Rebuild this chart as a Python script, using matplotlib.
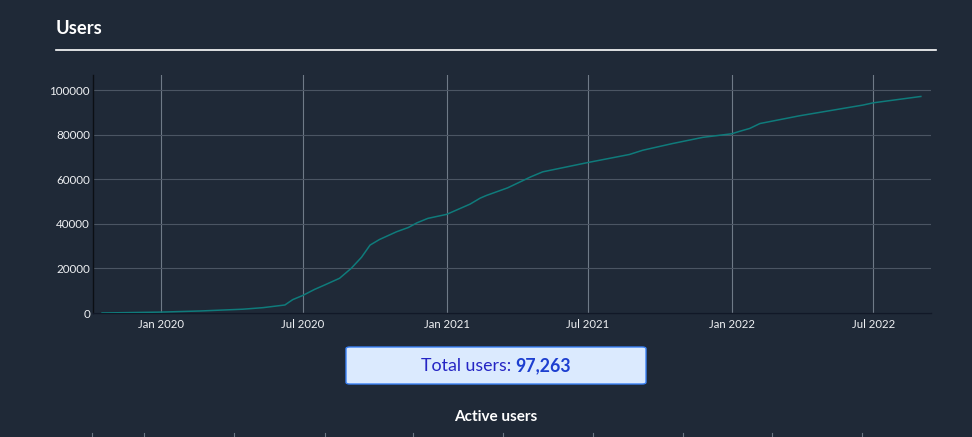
import numpy as np
import pandas as pd
import matplotlib
matplotlib.use("Agg")
import matplotlib.pyplot as plt
import matplotlib.dates as mdates
from matplotlib.lines import Line2D
from matplotlib.patches import FancyBboxPatch

plt.rcParams['font.family'] = ['Lato', 'DejaVu Sans']

# cumulative user count
dates = ["2019-10-18", "2020-01-01", "2020-02-20", "2020-04-15", "2020-05-11",
         "2020-06-08", "2020-06-18", "2020-07-01", "2020-07-16", "2020-07-29",
         "2020-08-17", "2020-09-01", "2020-09-14", "2020-09-25", "2020-10-07",
         "2020-10-29", "2020-11-13", "2020-11-24", "2020-12-08", "2021-01-01",
         "2021-01-31", "2021-02-13", "2021-02-21", "2021-03-20", "2021-04-19",
         "2021-05-04", "2021-07-01", "2021-08-23", "2021-09-09", "2021-10-17",
         "2021-11-25", "2022-01-01", "2022-01-11", "2022-01-24", "2022-02-06",
         "2022-03-29", "2022-06-18", "2022-07-01", "2022-08-31"]
users = [0, 400, 900, 1700, 2400,
         3600, 6000, 7900, 10600, 12600,
         15600, 20100, 25000, 30500, 33000,
         36500, 38400, 40500, 42500, 44300,
         48900, 51600, 52800, 56200, 61200,
         63400, 67600, 71200, 73100, 76100,
         78900, 80500, 81600, 82900, 85100,
         88600, 93400, 94400, 97263]
total_users = 97263

y_ticks = [0, 20000, 40000, 60000, 80000, 100000]
x_ticks = ["2020-01-01", "2020-07-01", "2021-01-01", "2021-07-01", "2022-01-01", "2022-07-01"]

bg = '#1f2937'
W, H = 972, 437
fig = plt.figure(figsize=(W / 100, H / 100), dpi=100, facecolor=bg)

ax = fig.add_axes([92.7 / W, 1 - 313 / H, (931 - 92.7) / W, (313 - 75) / H], facecolor=bg)
ax.plot(pd.to_datetime(dates), users, color='#0f7b7b', lw=1.1, zorder=3)

ax.set_xlim(pd.Timestamp("2019-10-06"), pd.Timestamp("2022-09-13"))
ax.set_ylim(0, 106900)
ax.set_yticks(y_ticks)
ax.set_yticklabels([str(v) for v in y_ticks])
ax.set_xticks(pd.to_datetime(x_ticks))
ax.xaxis.set_major_formatter(mdates.DateFormatter('%b %Y'))

ax.grid(axis='y', color='#4b5563', lw=0.8, zorder=1)
ax.grid(axis='x', color='#6f7a87', lw=0.8, zorder=1)
for s in ['top', 'right']:
    ax.spines[s].set_visible(False)
ax.spines['left'].set_color('#0b0f14')
ax.spines['bottom'].set_color('#111827')
ax.spines['left'].set_linewidth(1)
ax.spines['bottom'].set_linewidth(1)
ax.tick_params(axis='x', length=0, colors='#eef0f3', labelsize=8.2, pad=4)
ax.tick_params(axis='y', length=0, colors='#eef0f3', labelsize=8.4, pad=2)

# header
fig.text(56 / W, 1 - 29 / H, "Users", color='white', fontsize=13.2, fontweight='bold',
         ha='left', va='center')
fig.add_artist(Line2D([56 / W, 936 / W], [1 - 50 / H, 1 - 50 / H], color='white', lw=1.2))

# total users box
box = FancyBboxPatch((346 / W, 1 - 384 / H), 300 / W, 37 / H,
                     boxstyle="round,pad=0,rounding_size=0.004",
                     transform=fig.transFigure, facecolor='#dbeafe', edgecolor='#3b82f6', lw=1)
fig.add_artist(box)
t1 = fig.text(0, 1 - 366 / H, "Total users: ", color='#2525c4', fontsize=12.8, va='center')
t2 = fig.text(0, 1 - 366 / H, f"{total_users:,}", color='#1d3fd0', fontsize=12.8,
              fontweight='bold', va='center')
r = fig.canvas.get_renderer()
w1 = t1.get_window_extent(r).width
w2 = t2.get_window_extent(r).width
x0 = 496 - (w1 + w2) / 2
t1.set_x(x0 / W)
t2.set_x((x0 + w1) / W)

fig.text(496 / W, 1 - 417 / H, "Active users", color='white', fontsize=11,
         fontweight='bold', ha='center', va='center')
for gx in [92, 144, 234, 325, 413, 503, 593, 683, 772, 862]:
    fig.add_artist(Line2D([gx / W, gx / W], [0, 4 / H], color='#6b7683', lw=0.8))

fig.savefig("out.png", dpi=100, facecolor=bg)
